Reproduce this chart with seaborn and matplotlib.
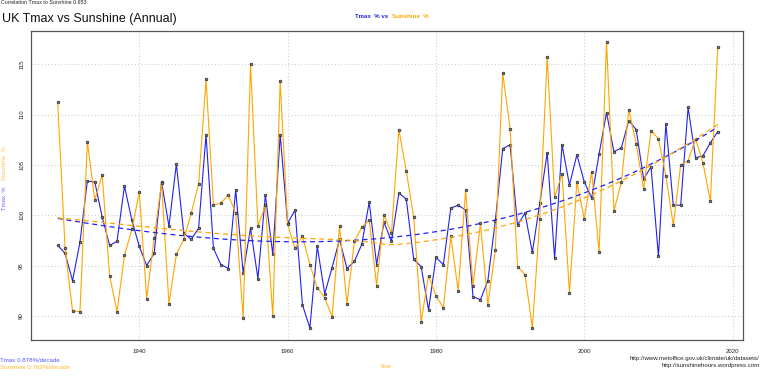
import numpy as np
import pandas as pd
import matplotlib
matplotlib.use("Agg")
import matplotlib.pyplot as plt
import seaborn as sns

years = list(range(1929, 2019))
tmax_pct = [
    97.0, 96.2, 93.5, 97.3, 103.4, 103.3, 99.8, 97.0, 97.4, 102.9,
    99.5, 96.9, 95.0, 96.2, 103.3, 98.9, 105.1, 98.2, 97.6, 98.7,
    108.0, 96.7, 95.1, 94.7, 102.5, 94.3, 98.7, 93.7, 102.0, 96.1,
    108.0, 99.2, 100.5, 91.1, 88.8, 96.9, 92.2, 94.8, 97.6, 94.7,
    95.4, 97.1, 101.3, 95.1, 99.3, 97.4, 102.2, 101.6, 95.6, 94.9,
    90.6, 95.8, 95.1, 100.7, 101.0, 100.5, 91.9, 91.6, 93.5, 99.4,
    106.6, 107.0, 99.0, 100.2, 96.3, 101.2, 106.2, 95.7, 107.0, 103.0,
    106.0, 103.3, 101.7, 106.1, 110.2, 106.3, 106.7, 109.4, 108.5, 103.6,
    104.8, 95.9, 109.1, 101.0, 101.0, 110.7, 105.7, 105.9, 107.2, 108.3,
]
sun_pct = [
    111.2, 96.7, 90.5, 90.4, 107.3, 101.5, 104.0, 94.0, 90.4, 96.0,
    98.6, 102.3, 91.7, 97.7, 103.2, 91.2, 96.1, 97.6, 100.2, 103.1,
    113.5, 101.0, 101.2, 102.0, 100.2, 89.8, 115.0, 98.9, 101.0, 90.0,
    113.3, 99.1, 96.7, 97.9, 95.1, 92.8, 91.8, 89.9, 98.9, 91.2,
    97.4, 98.8, 99.5, 93.0, 100.0, 98.2, 108.5, 104.4, 99.8, 89.4,
    94.0, 92.0, 90.8, 97.9, 92.5, 102.5, 93.0, 99.2, 91.1, 96.5,
    114.1, 108.6, 94.9, 94.1, 88.8, 99.6, 115.7, 101.8, 104.1, 92.3,
    103.3, 99.6, 104.3, 96.3, 117.2, 100.4, 103.3, 110.5, 107.1, 102.6,
    108.4, 107.6, 103.9, 99.0, 105.0, 105.4, 107.6, 105.2, 101.4, 116.7,
]
x_ticks = [1940, 1960, 1980, 2000, 2020]
y_ticks = [90, 95, 100, 105, 110, 115]

BLUE = "#2222ee"
ORANGE = "#ffa500"


def loess(x, y, span=1.0, degree=2):
    """Local quadratic regression with tricube weights (R loess style)."""
    x = np.asarray(x, float)
    y = np.asarray(y, float)
    n = len(x)
    q = int(np.floor(n * span))
    out = np.empty(n)
    for i, x0 in enumerate(x):
        d = np.abs(x - x0)
        h = np.sort(d)[q - 1] * 1.0001
        w = np.clip(1 - (d / h) ** 3, 0, None) ** 3
        X = np.vander(x - x0, degree + 1, increasing=True)
        Wm = np.sqrt(w)
        beta, *_ = np.linalg.lstsq(X * Wm[:, None], y * Wm, rcond=None)
        out[i] = beta[0]
    return out


sns.set_style("white")
plt.rcParams["font.family"] = ["Liberation Sans", "DejaVu Sans"]

df = pd.DataFrame({"Year": years, "Tmax": tmax_pct, "Sunshine": sun_pct})
df["Sun_trend"] = loess(df["Year"], df["Sunshine"])

W, H = 760, 379
fig = plt.figure(figsize=(W / 100, H / 100), dpi=100)
ax = fig.add_axes([31 / W, 1 - 340 / H, (743 - 31) / W, (340 - 31) / H])

mk = dict(marker="o", markersize=1.9, markerfacecolor="#808080",
          markeredgecolor="#222222", markeredgewidth=0.5)
sns.lineplot(data=df, x="Year", y="Tmax", ax=ax, color=BLUE, lw=0.8, **mk)
sns.lineplot(data=df, x="Year", y="Sunshine", ax=ax, color=ORANGE, lw=0.8, **mk)
sns.regplot(data=df, x="Year", y="Tmax", ax=ax, order=3, ci=None, scatter=False,
            line_kws=dict(color=BLUE, lw=0.9, ls=(0, (4, 3))))
sns.lineplot(data=df, x="Year", y="Sun_trend", ax=ax, color=ORANGE, lw=0.9,
             ls=(0, (4, 3)))

ax.set_xlim(1925.4, 2021.4)
ax.set_ylim(87.6, 118.3)
ax.set_xticks(x_ticks)
ax.set_yticks(y_ticks)
ax.set_xticklabels([str(t) for t in x_ticks], fontsize=4.3, color="#222222")
ax.set_yticklabels([str(t) for t in y_ticks], fontsize=4.3, color="#222222",
                   rotation=90, va="center")
ax.tick_params(axis="x", length=0, pad=6.3)
ax.tick_params(axis="y", length=0, pad=5.0)
ax.grid(True, color="#cfcfcf", ls=(0, (1, 2)), lw=0.8)
ax.set_xlabel("")
ax.set_ylabel("")
for s in ax.spines.values():
    s.set_visible(True)
    s.set_color("#555555")
    s.set_linewidth(0.9)


def ft(x, y, s, **kw):
    fig.text(x / W, 1 - y / H, s, **kw)


ft(1, 3, "Correlation Tmax to Sunshine 0.653", fontsize=3.8, va="center", ha="left",
   color="#222222")
ft(2, 19, "UK Tmax vs Sunshine (Annual)", fontsize=9, va="center", ha="left",
   color="#111111")
ft(355, 16, "Tmax  % vs", fontsize=4.4, fontweight="bold", color=BLUE,
   va="center", ha="left")
ft(391.5, 16, "Sunshine  %", fontsize=4.4, fontweight="bold", color=ORANGE,
   va="center", ha="left")
ft(5, 198, "Tmax  %", fontsize=4.3, rotation=90, color="#6666ff",
   va="center", ha="center")
ft(5, 163, "Sunshine  %", fontsize=4.3, rotation=90, color="#ffc04d",
   va="center", ha="center")
ft(0, 360.3, "Tmax 0.878%/decade", fontsize=4.4, color="#5555ff",
   va="center", ha="left")
ft(0, 367.5, "Sunshine 0.763%/decade", fontsize=4.4, color="#ffb733",
   va="center", ha="left")
ft(386.5, 367, "Year", fontsize=4.4, color="#ffb733", va="center", ha="center")
ft(759.5, 358.7, "http://www.metoffice.gov.uk/climate/uk/datasets/", fontsize=4.4,
   color="#222222", va="center", ha="right")
ft(759.5, 365.8, "http://sunshinehours.wordpress.com", fontsize=4.4,
   color="#222222", va="center", ha="right")

fig.savefig("out.png", dpi=100)
